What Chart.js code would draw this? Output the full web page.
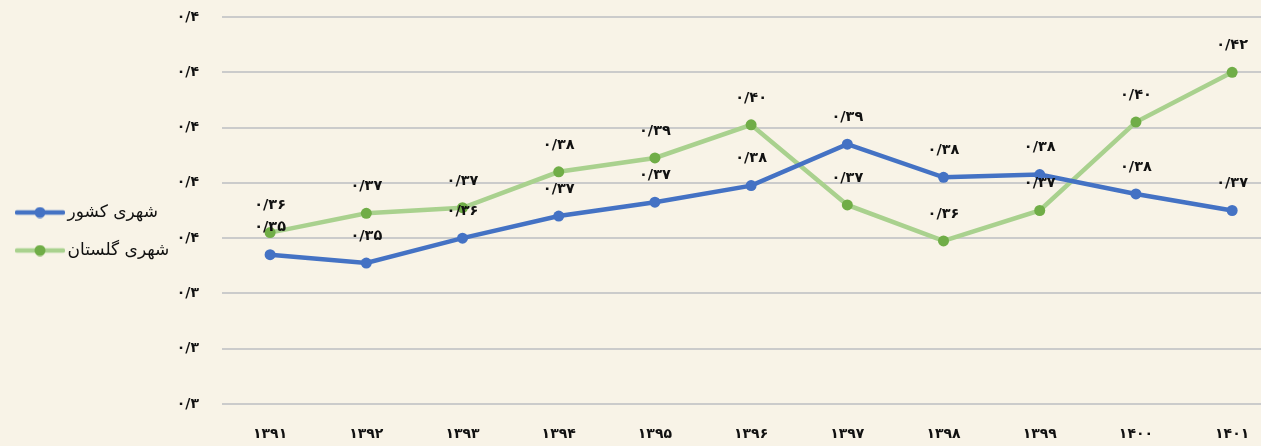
<!DOCTYPE html>
<html lang="fa">
<head>
    <meta charset="UTF-8">
    <title>شهری کشور و شهری گلستان</title>
    <script src="https://cdn.jsdelivr.net/npm/chart.js"></script>
    <style>
        html, body { margin: 0; padding: 0; background: #f8f3e7; }
        #box { width: 1261px; height: 446px; }
    </style>
</head>
<body>
<div id="box"><canvas id="chart"></canvas></div>
<script>
    // Datos
    var years = ['1391', '1392', '1393', '1394', '1395', '1396', '1397', '1398', '1399', '1400', '1401'];
    var keshvar = [0.354, 0.351, 0.360, 0.368, 0.373, 0.379, 0.394, 0.382, 0.383, 0.376, 0.370];
    var golestan = [0.362, 0.369, 0.371, 0.384, 0.389, 0.401, 0.372, 0.359, 0.370, 0.402, 0.420];
    var seriesNames = ['شهری کشور', 'شهری گلستان'];
    var yTicks = [0.30, 0.32, 0.34, 0.36, 0.38, 0.40, 0.42, 0.44];

    var FONT = "'DejaVu Sans', sans-serif";

    // numeros persas, punto decimal como "/"
    function fa(str) {
        var d = '۰۱۲۳۴۵۶۷۸۹';
        return String(str).replace(/[0-9]/g, function (c) { return d[+c]; }).replace('.', '/');
    }

    // icono de leyenda: linea con punto
    function legendIcon(lineColor, dotColor) {
        var c = document.createElement('canvas');
        c.width = 50; c.height = 12;
        var g = c.getContext('2d');
        g.strokeStyle = lineColor;
        g.lineWidth = 4.5;
        g.lineCap = 'round';
        g.beginPath(); g.moveTo(2, 6); g.lineTo(48, 6); g.stroke();
        g.fillStyle = dotColor;
        g.beginPath(); g.arc(25, 6, 5.5, 0, Math.PI * 2); g.fill();
        return c;
    }

    // etiquetas de valores sobre los puntos
    var valueLabels = {
        id: 'valueLabels',
        afterDatasetsDraw: function (chart) {
            var ctx = chart.ctx;
            ctx.save();
            ctx.font = 'bold 14.5px ' + FONT;
            ctx.letterSpacing = '2px';
            ctx.fillStyle = '#111';
            ctx.textAlign = 'center';
            ctx.textBaseline = 'middle';
            chart.data.datasets.forEach(function (ds, i) {
                chart.getDatasetMeta(i).data.forEach(function (pt, j) {
                    ctx.fillText(fa(ds.data[j].y.toFixed(2)), pt.x, pt.y - 27);
                });
            });
            ctx.restore();
        }
    };

    var icons = [legendIcon('#4472c4', '#4472c4'), legendIcon('#a9d18e', '#70ad47')];

    var config = {
        type: 'line',
        data: {
            datasets: [{
                label: seriesNames[0],
                data: keshvar.map(function (v, i) { return { x: i, y: v }; }),
                borderColor: '#4472c4',
                backgroundColor: '#4472c4',
                borderWidth: 4.5,
                pointRadius: 5.5,
                pointBorderWidth: 0,
                tension: 0
            }, {
                label: seriesNames[1],
                data: golestan.map(function (v, i) { return { x: i, y: v }; }),
                borderColor: '#a9d18e',
                backgroundColor: '#70ad47',
                pointBackgroundColor: '#70ad47',
                borderWidth: 4.5,
                pointRadius: 5.5,
                pointBorderWidth: 0,
                tension: 0
            }]
        },
        options: {
            responsive: true,
            maintainAspectRatio: false,
            animation: false,
            layout: { autoPadding: false, padding: { top: 17, right: 0, bottom: 0, left: 0 } },
            plugins: {
                tooltip: { enabled: false },
                legend: {
                    position: 'left',
                    maxWidth: 176,
                    labels: {
                        usePointStyle: true,
                        pointStyleWidth: 38,
                        padding: 21,
                        color: '#111',
                        font: { family: FONT, size: 17 },
                        generateLabels: function (chart) {
                            var items = Chart.defaults.plugins.legend.labels.generateLabels(chart);
                            items.forEach(function (it, k) { it.pointStyle = icons[k]; });
                            return items;
                        }
                    }
                }
            },
            scales: {
                x: {
                    type: 'linear',
                    min: -0.5,
                    max: 10.3,
                    grid: { display: false },
                    border: { display: false },
                    afterBuildTicks: function (axis) {
                        axis.ticks = years.map(function (y, i) { return { value: i }; });
                    },
                    afterFit: function (axis) {
                        axis.height = 42;
                        axis.paddingLeft = 0;
                        axis.paddingRight = 0;
                    },
                    ticks: {
                        padding: 14,
                        color: '#111',
                        font: { family: FONT, size: 14, weight: 'bold' },
                        callback: function (v) { return fa(years[v]); }
                    }
                },
                y: {
                    min: 0.30,
                    max: 0.44,
                    afterBuildTicks: function (axis) {
                        axis.ticks = yTicks.map(function (v) { return { value: v }; });
                    },
                    afterFit: function (axis) {
                        axis.width = 46;
                        axis.paddingTop = 0;
                        axis.paddingBottom = 0;
                    },
                    grid: { color: '#cbcbcb', lineWidth: 2, drawTicks: false },
                    border: { display: false },
                    ticks: {
                        padding: 23,
                        color: '#111',
                        font: { family: FONT, size: 14, weight: 'bold' },
                        callback: function (v) { return fa(v.toFixed(1)); }
                    }
                }
            }
        },
        plugins: [valueLabels]
    };

    var chart = new Chart(document.getElementById('chart'), config);
</script>
</body>
</html>
